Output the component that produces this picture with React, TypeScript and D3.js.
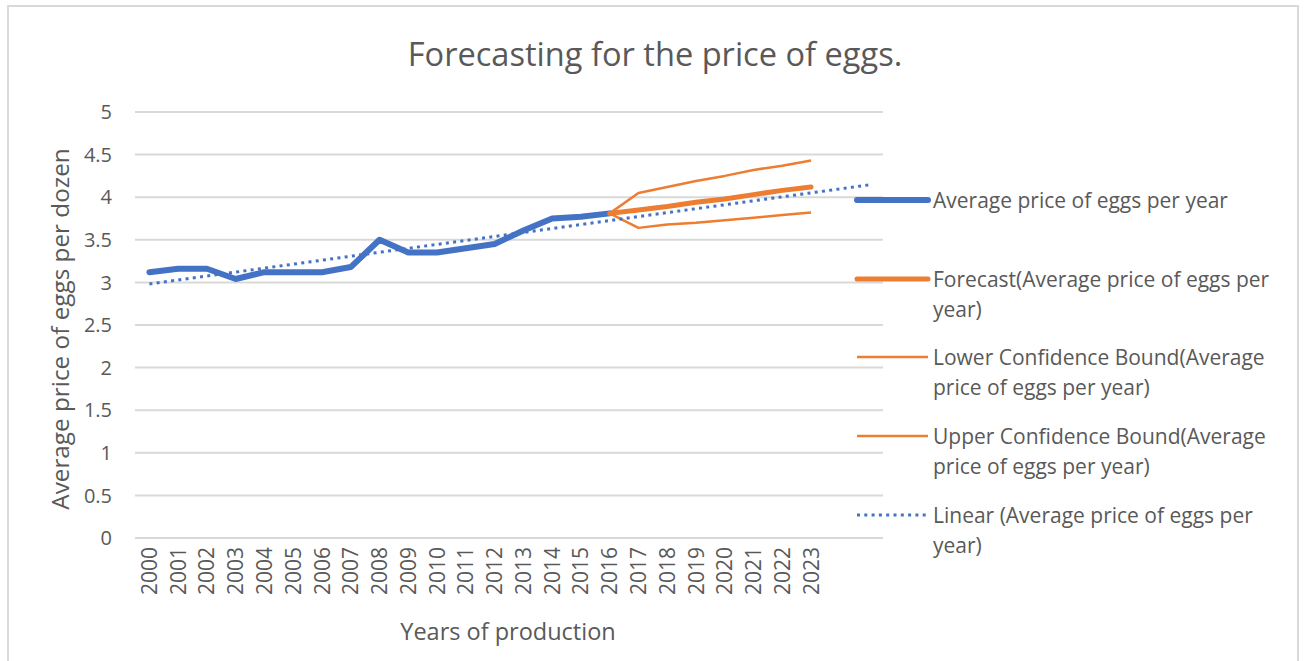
import React from 'react';
import * as d3 from 'd3';

// ---- data ----
const years = [
  '2000', '2001', '2002', '2003', '2004', '2005', '2006', '2007', '2008', '2009',
  '2010', '2011', '2012', '2013', '2014', '2015', '2016', '2017', '2018', '2019',
  '2020', '2021', '2022', '2023',
];
// two extra (unlabelled) periods that the trendline is projected forward into
const forwardPeriods = ['2024', '2025'];

const actualYears = ['2000', '2001', '2002', '2003', '2004', '2005', '2006', '2007', '2008',
  '2009', '2010', '2011', '2012', '2013', '2014', '2015', '2016'];
const actualValues = [3.12, 3.16, 3.16, 3.04, 3.12, 3.12, 3.12, 3.18, 3.5,
  3.35, 3.35, 3.4, 3.45, 3.61, 3.75, 3.77, 3.81];

const forecastYears = ['2016', '2017', '2018', '2019', '2020', '2021', '2022', '2023'];
const forecastValues = [3.81, 3.85, 3.89, 3.94, 3.98, 4.03, 4.08, 4.12];
const lowerValues = [3.81, 3.64, 3.68, 3.7, 3.73, 3.76, 3.79, 3.82];
const upperValues = [3.81, 4.05, 4.12, 4.19, 4.25, 4.32, 4.37, 4.43];

const yTicks = [0, 0.5, 1, 1.5, 2, 2.5, 3, 3.5, 4, 4.5, 5];
const yTickLabels = ['0', '0.5', '1', '1.5', '2', '2.5', '3', '3.5', '4', '4.5', '5'];

const title = 'Forecasting for the price of eggs.';
const xTitle = 'Years of production';
const yTitle = 'Average price of eggs per dozen';

const legendItems = [
  { key: 'actual', lines: ['Average price of eggs per year'] },
  { key: 'forecast', lines: ['Forecast(Average price of eggs per', 'year)'] },
  { key: 'lower', lines: ['Lower Confidence Bound(Average', 'price of eggs per year)'] },
  { key: 'upper', lines: ['Upper Confidence Bound(Average', 'price of eggs per year)'] },
  { key: 'linear', lines: ['Linear (Average price of eggs per', 'year)'] },
];

// ---- styles ----
const BLUE = '#4472C4';
const ORANGE = '#ED7D31';
const TEXT = '#595959';
const GRID = '#D9D9D9';
const FONT = "'Open Sans', sans-serif";

const W = 1304;
const H = 661;
const plot = { left: 135, right: 883, top: 112, bottom: 538 };

export default function App() {
  const allCats = [...years, ...forwardPeriods];
  const x = d3.scaleBand<string>().domain(allCats).range([plot.left, plot.right]).padding(0);
  const cx = (c: string) => (x(c) as number) + x.bandwidth() / 2;
  const y = d3.scaleLinear().domain([0, 5]).range([plot.bottom, plot.top]);

  const line = d3
    .line<[string, number]>()
    .x((d) => cx(d[0]))
    .y((d) => y(d[1]));

  const actualPath = line(actualYears.map((c, i) => [c, actualValues[i]] as [string, number])) || '';
  const forecastPath = line(forecastYears.map((c, i) => [c, forecastValues[i]] as [string, number])) || '';
  const lowerPath = line(forecastYears.map((c, i) => [c, lowerValues[i]] as [string, number])) || '';
  const upperPath = line(forecastYears.map((c, i) => [c, upperValues[i]] as [string, number])) || '';

  // linear least-squares trendline over the actual series, projected forward two periods
  const n = actualValues.length;
  const idx = d3.range(n);
  const mx = d3.mean(idx) as number;
  const my = d3.mean(actualValues) as number;
  const slope =
    d3.sum(idx, (i) => (i - mx) * (actualValues[i] - my)) / d3.sum(idx, (i) => (i - mx) * (i - mx));
  const intercept = my - slope * mx;
  const lastIdx = allCats.length - 1;
  const trendPath =
    line([
      [allCats[0], intercept],
      [allCats[lastIdx], intercept + slope * lastIdx],
    ]) || '';

  const legendX0 = 857;
  const legendX1 = 928;
  const legendTextX = 933;
  const legendY = [200, 279, 357, 436, 515];
  const legendLineH = 30;

  const legendStroke = (key: string) => {
    switch (key) {
      case 'actual':
        return { stroke: BLUE, strokeWidth: 6, strokeLinecap: 'round' as const };
      case 'forecast':
        return { stroke: ORANGE, strokeWidth: 5, strokeLinecap: 'round' as const };
      case 'lower':
      case 'upper':
        return { stroke: ORANGE, strokeWidth: 2.5 };
      default:
        return { stroke: BLUE, strokeWidth: 3, strokeDasharray: '3 4.3' };
    }
  };

  return (
    <svg
      width={W}
      height={H}
      style={{ position: 'absolute', left: 0, top: 0, background: '#fff' }}
      fontFamily={FONT}
    >
      <rect x={0} y={0} width={W} height={H} fill="#fff" />
      {/* chart frame */}
      <rect x={8} y={6} width={1290} height={680} fill="#fff" stroke={GRID} strokeWidth={2} />

      {/* title */}
      <text x={655} y={66} textAnchor="middle" fontSize={32.6} fill={TEXT}>
        {title}
      </text>

      {/* gridlines */}
      {yTicks.map((t) => (
        <line
          key={'g' + t}
          x1={plot.left}
          x2={plot.right}
          y1={y(t)}
          y2={y(t)}
          stroke={GRID}
          strokeWidth={2}
        />
      ))}

      {/* y tick labels */}
      {yTicks.map((t, i) => (
        <text
          key={'yt' + t}
          x={112}
          y={y(t)}
          dy="0.36em"
          textAnchor="end"
          fontSize={20}
          fill={TEXT}
        >
          {yTickLabels[i]}
        </text>
      ))}

      {/* x tick labels (rotated) */}
      {years.map((c) => (
        <text
          key={'xt' + c}
          transform={`translate(${cx(c)},547) rotate(-90)`}
          dy="0.36em"
          textAnchor="end"
          fontSize={21}
          fill={TEXT}
        >
          {c}
        </text>
      ))}

      {/* axis titles */}
      <text
        transform={`translate(69,329) rotate(-90)`}
        textAnchor="middle"
        fontSize={24.3}
        fill={TEXT}
      >
        {yTitle}
      </text>
      <text x={508} y={640} textAnchor="middle" fontSize={23.5} fill={TEXT}>
        {xTitle}
      </text>

      {/* series */}
      <path
        d={actualPath}
        fill="none"
        stroke={BLUE}
        strokeWidth={6}
        strokeLinejoin="round"
        strokeLinecap="round"
      />
      <path d={lowerPath} fill="none" stroke={ORANGE} strokeWidth={2.5} strokeLinejoin="round" />
      <path d={upperPath} fill="none" stroke={ORANGE} strokeWidth={2.5} strokeLinejoin="round" />
      <path
        d={forecastPath}
        fill="none"
        stroke={ORANGE}
        strokeWidth={5}
        strokeLinejoin="round"
        strokeLinecap="round"
      />
      <path d={trendPath} fill="none" stroke={BLUE} strokeWidth={3} strokeDasharray="3 4.3" />

      {/* legend */}
      {legendItems.map((item, i) => (
        <g key={item.key}>
          <line x1={legendX0} x2={legendX1} y1={legendY[i]} y2={legendY[i]} {...legendStroke(item.key)} />
          {item.lines.map((ln, j) => (
            <text
              key={j}
              x={legendTextX}
              y={legendY[i] + j * legendLineH}
              dy="0.36em"
              fontSize={21}
              fill={TEXT}
            >
              {ln}
            </text>
          ))}
        </g>
      ))}
    </svg>
  );
}
